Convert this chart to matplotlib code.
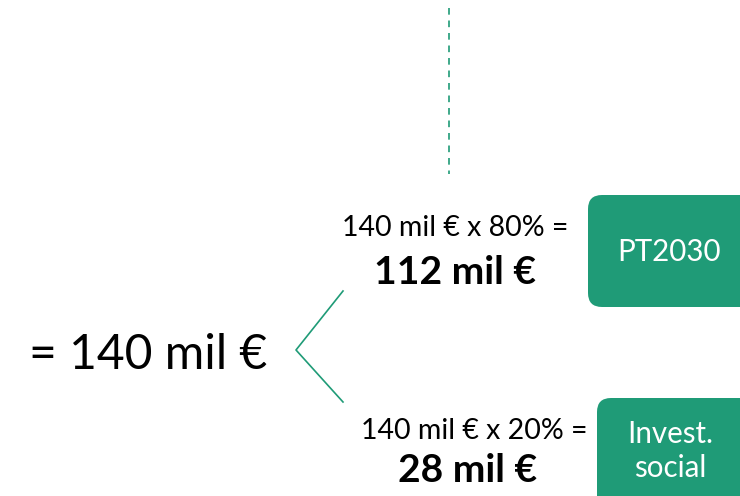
"""Split diagram: 140 mil € between PT2030 and Invest. social."""

import matplotlib

matplotlib.use("Agg")
import matplotlib.pyplot as plt
from matplotlib.patches import FancyBboxPatch

TOTAL = 140
SHARES = [80, 20]
TARGETS = ["PT2030", "Invest.\nsocial"]

GREEN = "#1F9B77"
FONT = ["Lato", "DejaVu Sans"]


def px(size):
    # font size given in pixels -> points at dpi 100
    return size * 72 / 100


def main() -> None:
    fig = plt.figure(figsize=(7.40, 4.96), dpi=100)
    ax = fig.add_axes([0, 0, 1, 1])
    ax.set_xlim(0, 740)
    ax.set_ylim(496, 0)
    ax.axis("off")

    # dashed separator at the top
    ax.plot([449, 449], [8, 174], color=GREEN, lw=1.2, ls=(0, (4, 3.5)))

    # total on the left
    ax.text(148, 355, f"= {TOTAL} mil €", ha="center", va="center",
            fontsize=px(48), color="black", family=FONT)

    # chevron
    ax.plot([343, 296, 343], [291, 350, 402], color=GREEN, lw=1.2)

    rows = [
        # (formula x, formula y, result x, result y, box x, box y, box h, label x, label y)
        (455, 228, 455, 272, 588, 195, 112, 669, 252),
        (474, 431, 468, 470, 597, 398, 120, 670, 451),
    ]
    for share, target, (fx, fy, rx, ry, bx, by, bh, lx, ly) in zip(SHARES, TARGETS, rows):
        value = TOTAL * share // 100
        ax.text(fx, fy, f"{TOTAL} mil € x {share}% =", ha="center", va="center",
                fontsize=px(28.5), color="black", family=FONT)
        ax.text(rx, ry, f"{value} mil €", ha="center", va="center",
                fontsize=px(39), fontweight="bold", color="black", family=FONT)
        box = FancyBboxPatch((bx, by), 200, bh,
                             boxstyle="round,pad=0,rounding_size=14",
                             linewidth=0, facecolor=GREEN)
        ax.add_patch(box)
        ax.text(lx, ly, target, ha="center", va="center", fontsize=px(29.5),
                color="white", family=FONT, linespacing=1.3)

    fig.savefig("out.png", dpi=100, facecolor="white")
    plt.close(fig)


if __name__ == "__main__":
    main()
